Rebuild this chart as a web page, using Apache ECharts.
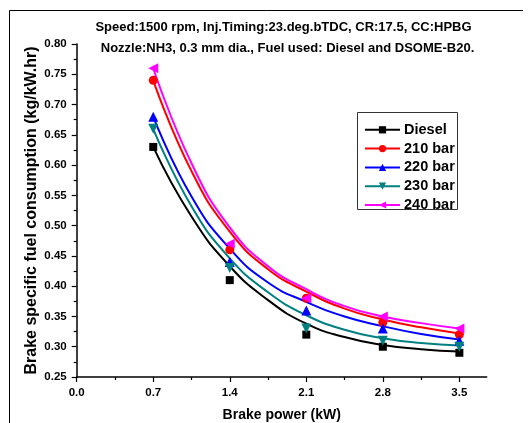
<!DOCTYPE html>
<html>
<head>
<meta charset="utf-8">
<script src="https://cdn.jsdelivr.net/npm/echarts@6/dist/echarts.min.js"></script>
<style>
html,body{margin:0;padding:0;background:#fff;}
#chart{width:532px;height:423px;}
</style>
</head>
<body>
<div id="chart"></div>
<script>
// ---- data ----
const seriesNames = ['Diesel', '210 bar', '220 bar', '230 bar', '240 bar'];
const markerX = [0.7, 1.4, 2.1, 2.8, 3.5];
const dieselPts = [0.63, 0.41, 0.32, 0.30, 0.29];
const bar210Pts = [0.74, 0.46, 0.38, 0.34, 0.32];
const bar220Pts = [0.68, 0.44, 0.36, 0.33, 0.31];
const bar230Pts = [0.66, 0.43, 0.33, 0.31, 0.30];
const bar240Pts = [0.76, 0.47, 0.38, 0.35, 0.33];

// fitted curves, values
const fitX = [0.7, 1.05, 1.4, 1.75, 2.1, 2.45, 2.8, 3.15, 3.5];
const dieselFit = [0.63, 0.515, 0.433, 0.377, 0.338, 0.316, 0.303, 0.296, 0.292];
const bar210Fit = [0.74, 0.590, 0.490, 0.428, 0.391, 0.363, 0.345, 0.332, 0.322];
const bar220Fit = [0.68, 0.548, 0.462, 0.406, 0.374, 0.350, 0.334, 0.321, 0.312];
const bar230Fit = [0.66, 0.532, 0.446, 0.390, 0.352, 0.328, 0.314, 0.306, 0.302];
const bar240Fit = [0.76, 0.603, 0.497, 0.433, 0.395, 0.367, 0.350, 0.339, 0.330];

const xTickLabels = [0.0, 0.7, 1.4, 2.1, 2.8, 3.5];
const xMinorTicks = [0.35, 1.05, 1.75, 2.45, 3.15];
const titleLine1 = 'Speed:1500 rpm, Inj.Timing:23.deg.bTDC, CR:17.5, CC:HPBG';
const titleLine2 = 'Nozzle:NH3, 0.3 mm dia., Fuel used: Diesel and DSOME-B20.';

// ---- styles ----
const colors = ['#000000', '#ff0000', '#0000ff', '#008080', '#ff00ff'];
const symbols = ['rect', 'circle', 'triangle', 'triangle', 'triangle'];
const rotates = [0, 0, 0, 180, 90];
const sizes = [8, 9, 10, 10, 10];
const pts = [dieselPts, bar210Pts, bar220Pts, bar230Pts, bar240Pts];
const fits = [dieselFit, bar210Fit, bar220Fit, bar230Fit, bar240Fit];
const FONT = '"Liberation Sans", Arial, sans-serif';

const series = [];
seriesNames.forEach((n, i) => {
  series.push({
    name: n, type: 'line', smooth: 0.5,
    showSymbol: false, symbol: symbols[i], symbolRotate: rotates[i],
    data: fitX.map((x, j) => [x, fits[i][j]]),
    lineStyle: { color: colors[i], width: 2 },
    itemStyle: { color: colors[i] },
    z: 2, silent: true
  });
});
seriesNames.forEach((n, i) => {
  series.push({
    name: n, type: 'scatter', symbol: symbols[i], symbolRotate: rotates[i], symbolSize: sizes[i],
    data: markerX.map((x, j) => [x, pts[i][j]]),
    itemStyle: { color: colors[i], opacity: 1 },
    z: 3, silent: true
  });
});

const chart = echarts.init(document.getElementById('chart'), null, { renderer: 'canvas' });
chart.setOption({
  animation: false,
  backgroundColor: '#fff',
  grid: { left: 76.7, right: 45.3, top: 44, bottom: 46, containLabel: false, outerBoundsMode: 'none' },
  legend: {
    data: seriesNames, orient: 'vertical', left: 364, top: 122.3, padding: 0,
    itemWidth: 35, itemHeight: 9, itemGap: 3.8,
    textStyle: { fontFamily: FONT, fontWeight: 'bold', fontSize: 14.5, color: '#000', padding: [0, 0, 0, -1] },
    selectedMode: false
  },
  xAxis: [{
    type: 'value', min: 0, max: 3.75, interval: 0.7,
    name: 'Brake power (kW)', nameLocation: 'middle', nameGap: 31, nameMoveOverlap: false,
    nameTextStyle: { fontFamily: FONT, fontWeight: 'bold', fontSize: 14, color: '#000' },
    axisLine: { show: true, lineStyle: { color: '#000', width: 1.5 } },
    axisTick: { show: true, length: 5, inside: false, customValues: xTickLabels, lineStyle: { color: '#000', width: 1.2 } },
    axisLabel: { customValues: xTickLabels, margin: 10, fontFamily: FONT, fontWeight: 'bold', fontSize: 11.5, color: '#000',
      formatter: v => Number(v).toFixed(1) },
    splitLine: { show: false }
  }, {
    type: 'value', min: 0, max: 3.75, position: 'bottom', gridIndex: 0,
    axisLine: { show: false },
    axisTick: { show: true, length: 3, inside: false, customValues: xMinorTicks, lineStyle: { color: '#000', width: 1.2 } },
    axisLabel: { show: false },
    splitLine: { show: false }
  }],
  yAxis: {
    type: 'value', min: 0.25, max: 0.80, interval: 0.05,
    name: 'Brake specific fuel consumption (kg/kW.hr)', nameLocation: 'middle', nameGap: 37, nameMoveOverlap: false,
    nameTextStyle: { fontFamily: FONT, fontWeight: 'bold', fontSize: 16, color: '#000' },
    axisLine: { show: true, lineStyle: { color: '#000', width: 1.5 } },
    axisTick: { show: true, length: 5, inside: false, lineStyle: { color: '#000', width: 1.2 } },
    minorTick: { show: true, splitNumber: 2, length: 3, lineStyle: { color: '#000', width: 1.2 } },
    axisLabel: { margin: 10, fontFamily: FONT, fontWeight: 'bold', fontSize: 11.5, color: '#000',
      formatter: v => Number(v).toFixed(2) },
    splitLine: { show: false }
  },
  graphic: [
    { type: 'polyline', shape: { points: [[9.5, 430], [9.5, 10.5], [523, 10.5]] },
      style: { stroke: '#000', lineWidth: 1, fill: null }, silent: true },
    { type: 'rect', shape: { x: 357.5, y: 112.5, width: 100, height: 97 },
      style: { stroke: '#333', lineWidth: 1, fill: null }, silent: true },
    { type: 'text', x: 283.5, y: 27, style: { text: titleLine1, textAlign: 'center', textVerticalAlign: 'middle',
      font: 'bold 13px ' + FONT, fill: '#000' }, silent: true },
    { type: 'text', x: 287.5, y: 48, style: { text: titleLine2, textAlign: 'center', textVerticalAlign: 'middle',
      font: 'bold 13px ' + FONT, fill: '#000' }, silent: true }
  ],
  series: series
});
</script>
</body>
</html>
